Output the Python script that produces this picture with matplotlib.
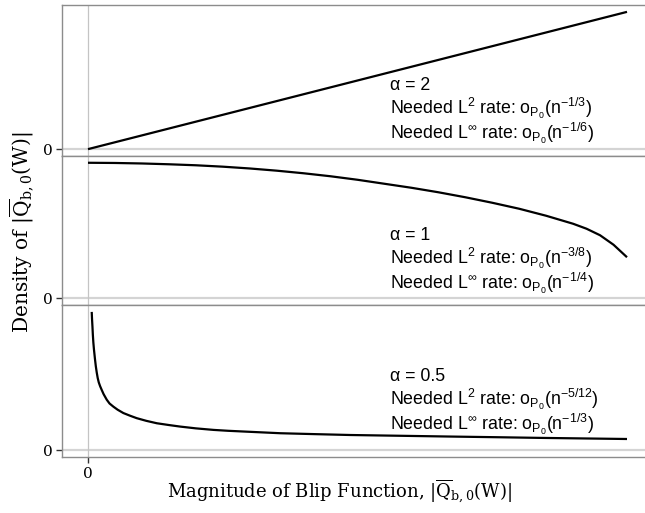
import numpy as np
import matplotlib
matplotlib.use('Agg')
import matplotlib.pyplot as plt

plt.rcParams['mathtext.fontset'] = 'custom'
plt.rcParams['mathtext.rm'] = 'Liberation Sans'
plt.rcParams['mathtext.it'] = 'Liberation Sans:italic'
plt.rcParams['mathtext.sf'] = 'Liberation Sans'

# density curves (x = magnitude of blip, scaled to [0, 1])
x_a2 = [0.0, 1.0]
d_a2 = [0.0, 2.0]

x_a1 = [0.0, 0.05, 0.10, 0.15, 0.20, 0.25, 0.30, 0.35, 0.40, 0.45, 0.50, 0.55,
        0.60, 0.65, 0.70, 0.75, 0.80, 0.85, 0.90, 0.925, 0.95, 0.975, 1.0]
d_a1 = [1.355, 1.353, 1.348, 1.340, 1.330, 1.316, 1.298, 1.276, 1.250, 1.220, 1.185, 1.145,
        1.105, 1.060, 1.010, 0.955, 0.895, 0.825, 0.745, 0.695, 0.630, 0.535, 0.410]

x_a05 = [0.0069, 0.0075, 0.0083, 0.009, 0.0099, 0.011, 0.013, 0.0145, 0.0162, 0.018,
         0.020, 0.0225, 0.0255, 0.029, 0.0348, 0.040, 0.047, 0.055, 0.0656, 0.078,
         0.0903, 0.108, 0.1277, 0.150, 0.171, 0.200, 0.233, 0.260, 0.295, 0.357,
         0.420, 0.487, 0.580, 0.673, 0.760, 0.840, 0.920, 1.0]
d_a05 = [6.23, 5.90, 5.55, 5.20, 4.86, 4.55, 4.09, 3.78, 3.50, 3.25,
         3.05, 2.88, 2.71, 2.52, 2.27, 2.10, 1.96, 1.82, 1.67, 1.55,
         1.44, 1.32, 1.21, 1.13, 1.06, 0.98, 0.91, 0.87, 0.83, 0.76,
         0.72, 0.68, 0.645, 0.61, 0.58, 0.55, 0.525, 0.50]

alphas = ['2', '1', '0.5']
l2_rates = ['-1/3', '-3/8', '-5/12']
linf_rates = ['-1/6', '-1/4', '-1/3']

curves = [(x_a2, d_a2), (x_a1, d_a1), (x_a05, d_a05)]

W, H = 645, 513
fig = plt.figure(figsize=(W / 100, H / 100), dpi=100)

# panel (top, bottom) in pixels
panels = [(5, 156), (156, 305), (305, 457)]
text_base = [(90, 114, 139), (240, 264, 289), (381, 405, 430)]
x0_px, x1_px = 88, 627
left_px = 62
unit = x1_px - x0_px
xlim = (-(x0_px - left_px) / unit, (W - x0_px) / unit)

BORDER = '#8c8c8c'
FS = 12.8
for i, ((top, bot), (xs, ds)) in enumerate(zip(panels, curves)):
    ax = fig.add_axes([left_px / W, 1 - bot / H, (W - left_px) / W, (bot - top) / H])
    ymax = max(ds)
    ax.set_ylim(-0.05 * ymax, 1.05 * ymax)
    ax.set_xlim(*xlim)
    ax.axhline(0, color='#d4d4d4', linewidth=1.6, zorder=0)
    ax.axvline(0, color='#c4c4c4', linewidth=0.9, zorder=0)
    ax.plot(xs, ds, color='black', linewidth=1.6, solid_capstyle='butt', solid_joinstyle='round')
    ax.set_yticks([0])
    ax.set_yticklabels(['0'], family='DejaVu Serif', fontsize=11)
    ax.tick_params(axis='y', length=4, width=1, color='#333333', pad=3)
    if i < 2:
        ax.set_xticks([])
    else:
        ax.set_xticks([0])
        ax.set_xticklabels(['0'], family='DejaVu Serif', fontsize=11)
        ax.tick_params(axis='x', length=4, width=1, color='#333333', pad=3)
    ax.spines['right'].set_visible(False)
    for s in ['left', 'top', 'bottom']:
        ax.spines[s].set_color(BORDER)
        ax.spines[s].set_linewidth(1.0)

    b1, b2, b3 = text_base[i]
    tx = 390 / W
    fig.text(tx, 1 - b1 / H, '\u03b1 = %s' % alphas[i], fontsize=FS,
             family='Liberation Sans', va='baseline')
    fig.text(tx, 1 - b2 / H, r'Needed L$^2$ rate: o$_{\mathrm{P}_0}$(n$^{%s}$)' % l2_rates[i],
             fontsize=FS, family='Liberation Sans', math_fontfamily='custom', va='baseline')
    fig.text(tx, 1 - b3 / H, r'Needed L$^\infty$ rate: o$_{\mathrm{P}_0}$(n$^{%s}$)' % linf_rates[i],
             fontsize=FS, family='Liberation Sans', math_fontfamily='custom', va='baseline')

fig.text(339 / W, 1 - 491 / H,
         r'Magnitude of Blip Function, $|\overline{\mathrm{Q}}_{\mathrm{b},0}(\mathrm{W})|$',
         family='DejaVu Serif', math_fontfamily='dejavuserif', fontsize=13, ha='center', va='center')
fig.text(22 / W, 1 - 232 / H,
         r'Density of $|\overline{\mathrm{Q}}_{\mathrm{b},0}(\mathrm{W})|$',
         family='DejaVu Serif', math_fontfamily='dejavuserif', fontsize=14.5, ha='center', va='center',
         rotation=90)

fig.savefig('out.png', dpi=100)
